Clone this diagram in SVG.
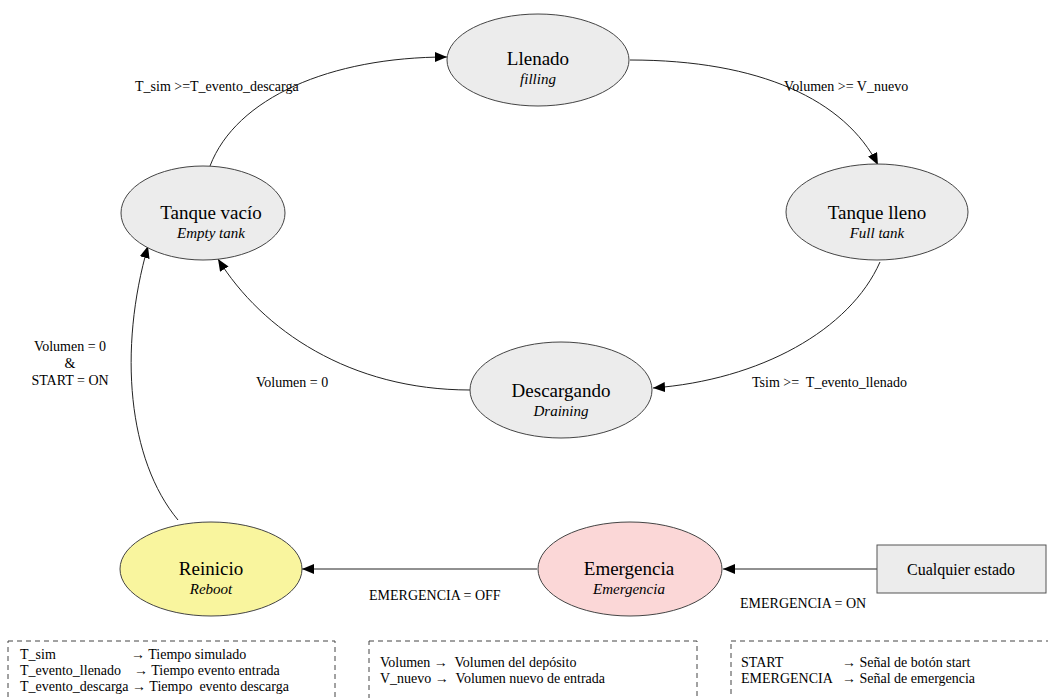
<svg xmlns="http://www.w3.org/2000/svg" width="1048" height="698" viewBox="0 0 1048 698" font-family="'Liberation Serif', 'Times New Roman', 'DejaVu Serif', serif">
  <style>
    text { font-family: 'Liberation Serif', 'Times New Roman', 'DejaVu Serif', serif; fill: #000; }
    .state { fill: #ececec; stroke: #444; stroke-width: 1; }
    .main { font-size: 19px; text-anchor: middle; }
    .sub { font-size: 15px; font-style: italic; text-anchor: middle; }
    .lbl { font-size: 14px; }
    .edge { fill: none; stroke: #222; stroke-width: 1; marker-end: url(#arrow); }
    .legend { fill: none; stroke: #444; stroke-width: 1; stroke-dasharray: 5 4; }
  </style>
  <defs>
    <marker id="arrow" viewBox="0 0 12 10" refX="12" refY="5" markerWidth="12" markerHeight="10" markerUnits="userSpaceOnUse" orient="auto">
      <path d="M0,0 L12,5 L0,10 z" fill="#000"/>
    </marker>
  </defs>

  <rect width="1048" height="698" fill="#fff"/>

  <!-- transitions -->
  <g id="connectors">
    <path class="edge" d="M210,166 C236,98 330,57 447,57"/>
    <path class="edge" d="M630,60 C760,60 845,100 878,165"/>
    <path class="edge" d="M880,262 C850,330 760,380 653,388"/>
    <path class="edge" d="M470,390 C350,390 262,330 218,259"/>
    <path class="edge" d="M178,520 C128,460 118,350 148,246"/>
    <path class="edge" d="M537,569 L302,569"/>
    <path class="edge" d="M877,569 L723,569"/>
  </g>

  <!-- transition labels -->
  <g id="edge-labels">
    <text class="lbl" x="135" y="91">T_sim &gt;=T_evento_descarga</text>
    <text class="lbl" x="784" y="91">Volumen &gt;= V_nuevo</text>
    <text class="lbl" x="752" y="387" xml:space="preserve">Tsim &gt;=  T_evento_llenado</text>
    <text class="lbl" x="256" y="387">Volumen = 0</text>
    <text class="lbl" x="70" y="351" text-anchor="middle">Volumen = 0</text>
    <text class="lbl" x="70" y="368" text-anchor="middle">&amp;</text>
    <text class="lbl" x="70" y="385" text-anchor="middle">START = ON</text>
    <text class="lbl" x="369" y="600">EMERGENCIA = OFF</text>
    <text class="lbl" x="740" y="608">EMERGENCIA = ON</text>
  </g>

  <g id="llenado">
    <ellipse class="state" cx="538" cy="60" rx="91" ry="46"/>
    <text class="main" x="538" y="65">Llenado</text>
    <text class="sub" x="538" y="84">filling</text>
  </g>

  <g id="tanque-vacio">
    <ellipse class="state" cx="203" cy="213" rx="82" ry="47"/>
    <text class="main" x="211" y="219">Tanque vacío</text>
    <text class="sub" x="211" y="238">Empty tank</text>
  </g>

  <g id="tanque-lleno">
    <ellipse class="state" cx="877" cy="212" rx="91" ry="48"/>
    <text class="main" x="877" y="219">Tanque lleno</text>
    <text class="sub" x="877" y="238">Full tank</text>
  </g>

  <g id="descargando">
    <ellipse class="state" cx="561" cy="390" rx="91" ry="48"/>
    <text class="main" x="561" y="397">Descargando</text>
    <text class="sub" x="561" y="416">Draining</text>
  </g>

  <g id="reinicio">
    <ellipse cx="211" cy="569" rx="91" ry="47" fill="#f9f59e" stroke="#444"/>
    <text class="main" x="211" y="575">Reinicio</text>
    <text class="sub" x="211" y="594">Reboot</text>
  </g>

  <g id="emergencia">
    <ellipse cx="630" cy="569" rx="92" ry="47" fill="#fbd7d7" stroke="#444"/>
    <text class="main" x="629" y="575">Emergencia</text>
    <text class="sub" x="629" y="594">Emergencia</text>
  </g>

  <g id="cualquier-estado">
    <rect x="877" y="545" width="169" height="48" fill="#ececec" stroke="#555"/>
    <text class="lbl" x="961" y="575" text-anchor="middle" style="font-size:16px">Cualquier estado</text>
  </g>

  <!-- legends -->
  <g id="legend-tiempos">
    <rect class="legend" x="8" y="641" width="327" height="70"/>
    <text class="lbl" x="20" y="659">T_sim</text>
    <text class="lbl" x="131" y="659">→ Tiempo simulado</text>
    <text class="lbl" x="20" y="675">T_evento_llenado</text>
    <text class="lbl" x="134" y="675">→ Tiempo evento entrada</text>
    <text class="lbl" x="20" y="691" xml:space="preserve">T_evento_descarga → Tiempo  evento descarga</text>
  </g>

  <g id="legend-volumen">
    <rect class="legend" x="369" y="641" width="328" height="70"/>
    <text class="lbl" x="380" y="667" xml:space="preserve">Volumen →  Volumen del depósito</text>
    <text class="lbl" x="380" y="683" xml:space="preserve">V_nuevo →  Volumen nuevo de entrada</text>
  </g>

  <g id="legend-senales">
    <rect class="legend" x="731" y="641" width="330" height="70"/>
    <text class="lbl" x="741" y="667">START</text>
    <text class="lbl" x="842" y="667">→ Señal de botón start</text>
    <text class="lbl" x="741" y="683">EMERGENCIA</text>
    <text class="lbl" x="842" y="683">→ Señal de emergencia</text>
  </g>
</svg>
